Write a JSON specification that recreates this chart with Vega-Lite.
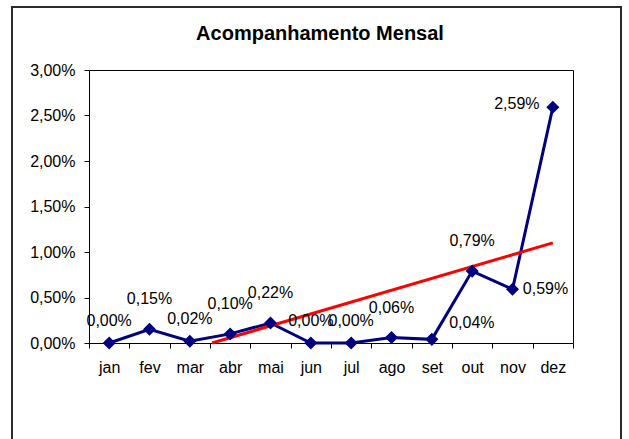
{
  "$schema": "https://vega.github.io/schema/vega-lite/v6.json",
  "width": 484,
  "height": 273,
  "autosize": {"type": "none"},
  "padding": {"left": 89, "top": 70, "right": 56, "bottom": 96},
  "background": "white",
  "config": {
    "view": {"stroke": "black", "strokeWidth": 1},
    "font": "Liberation Sans"
  },
  "title": {
    "text": "Acompanhamento Mensal",
    "font": "Liberation Sans",
    "fontSize": 20,
    "fontWeight": "bold",
    "color": "black",
    "anchor": "middle",
    "frame": "group",
    "baseline": "alphabetic",
    "offset": -54,
    "dx": -11
  },
  "datasets": {
    "meses": [
      {"idx": 1, "mes": "jan", "valor": 0.00, "rotulo": "0,00%"},
      {"idx": 2, "mes": "fev", "valor": 0.15, "rotulo": "0,15%"},
      {"idx": 3, "mes": "mar", "valor": 0.02, "rotulo": "0,02%"},
      {"idx": 4, "mes": "abr", "valor": 0.10, "rotulo": "0,10%"},
      {"idx": 5, "mes": "mai", "valor": 0.22, "rotulo": "0,22%"},
      {"idx": 6, "mes": "jun", "valor": 0.00, "rotulo": "0,00%"},
      {"idx": 7, "mes": "jul", "valor": 0.00, "rotulo": "0,00%"},
      {"idx": 8, "mes": "ago", "valor": 0.06, "rotulo": "0,06%"},
      {"idx": 9, "mes": "set", "valor": 0.04, "rotulo": "0,04%"},
      {"idx": 10, "mes": "out", "valor": 0.79, "rotulo": "0,79%"},
      {"idx": 11, "mes": "nov", "valor": 0.59, "rotulo": "0,59%"},
      {"idx": 12, "mes": "dez", "valor": 2.59, "rotulo": "2,59%"}
    ],
    "tendencia": [
      {"idx": 3.55, "valor": 0},
      {"idx": 12, "valor": 1.10}
    ]
  },
  "data": {"name": "meses"},
  "layer": [
    {
      "mark": {"type": "line", "color": "#000080", "strokeWidth": 3},
      "encoding": {
        "x": {
          "field": "idx",
          "type": "quantitative",
          "scale": {"domain": [0.5, 12.5], "nice": false, "zero": false},
          "axis": {
            "title": null,
            "values": [0.5, 1.5, 2.5, 3.5, 4.5, 5.5, 6.5, 7.5, 8.5, 9.5, 10.5, 11.5, 12.5],
            "labelExpr": "datum.value < 12 ? ['jan','fev','mar','abr','mai','jun','jul','ago','set','out','nov','dez'][datum.value - 0.5] : ''",
            "labelOffset": 20.17,
            "domain": false,
            "grid": false,
            "ticks": true,
            "tickSize": 5,
            "tickColor": "black",
            "labelFontSize": 16,
            "labelColor": "black",
            "labelPadding": 11,
            "labelOverlap": false,
            "labelFlush": false,
            "labelBound": false
          }
        },
        "y": {
          "field": "valor",
          "type": "quantitative",
          "scale": {"domain": [0, 3], "nice": false, "zero": false},
          "axis": {
            "title": null,
            "values": [0, 0.5, 1, 1.5, 2, 2.5, 3],
            "labelExpr": "replace(format(datum.value, '.2f'), '.', ',') + '%'",
            "domain": false,
            "grid": false,
            "ticks": true,
            "tickSize": 5,
            "tickColor": "black",
            "labelFontSize": 16,
            "labelColor": "black",
            "labelPadding": 9,
            "labelOverlap": false,
            "labelFlush": false
          }
        }
      }
    },
    {
      "data": {"values": [{}]},
      "mark": {"type": "rect", "fill": "white", "fillOpacity": 0, "stroke": "#2b2b2b", "strokeWidth": 2, "clip": false},
      "encoding": {
        "x": {"datum": -1.409, "type": "quantitative"},
        "x2": {"datum": 13.69},
        "y": {"datum": -1.143, "type": "quantitative"},
        "y2": {"datum": 3.692}
      }
    },
    {
      "data": {"name": "tendencia"},
      "mark": {"type": "line", "color": "#FF0000", "strokeWidth": 3},
      "encoding": {
        "x": {"field": "idx", "type": "quantitative"},
        "y": {"field": "valor", "type": "quantitative"}
      }
    },
    {
      "mark": {"type": "point", "shape": "diamond", "filled": true, "color": "#000080", "size": 170, "opacity": 1},
      "encoding": {
        "x": {"field": "idx", "type": "quantitative"},
        "y": {"field": "valor", "type": "quantitative"}
      }
    },
    {
      "transform": [{"filter": "indexof(['jan','mar','jun','jul'], datum.mes) >= 0"}],
      "mark": {"type": "text", "fontSize": 16, "color": "black", "align": "center", "baseline": "middle", "dy": -22},
      "encoding": {
        "x": {"field": "idx", "type": "quantitative"},
        "y": {"field": "valor", "type": "quantitative"},
        "text": {"field": "rotulo"}
      }
    },
    {
      "transform": [{"filter": "indexof(['fev','abr','mai','ago','out'], datum.mes) >= 0"}],
      "mark": {"type": "text", "fontSize": 16, "color": "black", "align": "center", "baseline": "middle", "dy": -30},
      "encoding": {
        "x": {"field": "idx", "type": "quantitative"},
        "y": {"field": "valor", "type": "quantitative"},
        "text": {"field": "rotulo"}
      }
    },
    {
      "transform": [{"filter": "datum.mes == 'set'"}],
      "mark": {"type": "text", "fontSize": 16, "color": "black", "align": "center", "baseline": "middle", "dx": 40, "dy": -16},
      "encoding": {
        "x": {"field": "idx", "type": "quantitative"},
        "y": {"field": "valor", "type": "quantitative"},
        "text": {"field": "rotulo"}
      }
    },
    {
      "transform": [{"filter": "datum.mes == 'nov'"}],
      "mark": {"type": "text", "fontSize": 16, "color": "black", "align": "center", "baseline": "middle", "dx": 33, "dy": 0},
      "encoding": {
        "x": {"field": "idx", "type": "quantitative"},
        "y": {"field": "valor", "type": "quantitative"},
        "text": {"field": "rotulo"}
      }
    },
    {
      "transform": [{"filter": "datum.mes == 'dez'"}],
      "mark": {"type": "text", "fontSize": 16, "color": "black", "align": "center", "baseline": "middle", "dx": -36, "dy": -3},
      "encoding": {
        "x": {"field": "idx", "type": "quantitative"},
        "y": {"field": "valor", "type": "quantitative"},
        "text": {"field": "rotulo"}
      }
    }
  ]
}
